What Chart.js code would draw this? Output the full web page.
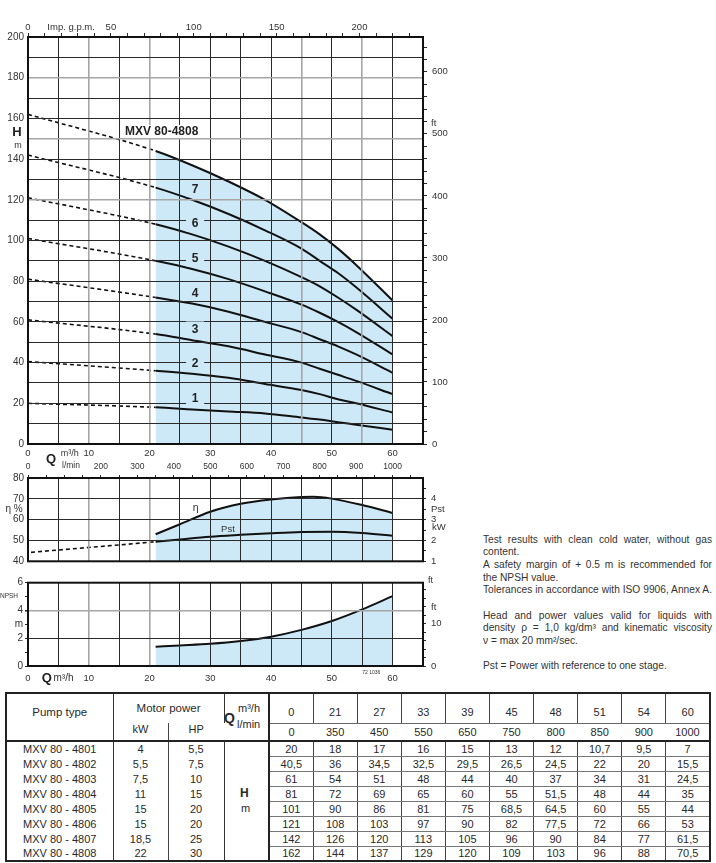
<!DOCTYPE html>
<html><head><meta charset="utf-8">
<script src="https://cdn.jsdelivr.net/npm/chart.js@4.4.1/dist/chart.umd.min.js"></script>
<style>
html,body{margin:0;padding:0;background:#fff;width:716px;height:863px;overflow:hidden;font-family:"Liberation Sans",Arial,sans-serif;color:#333}
canvas.cv{position:absolute;left:0}
#notes{position:absolute;left:483px;top:533.5px;width:229px;font-size:10.2px;color:#333}
#notes div{height:12.7px;line-height:12.7px;white-space:nowrap}
#notes div.j{text-align:justify;text-align-last:justify}
#tbl{position:absolute;left:5px;top:692px;width:704px;height:168px;border-collapse:collapse;table-layout:fixed;border:2px solid #222;font-size:11px;color:#2a2a2a}
#tbl td{padding:0;text-align:center;vertical-align:middle;white-space:nowrap;overflow:hidden;line-height:12px}
#tbl tr.r1{height:30px}
#tbl tr.r2{height:18px}
#tbl tr.rd{height:15px}
#tbl td span{position:relative}
#tbl .r2 td{border-bottom:2px solid #222}
#tbl td.pt{border-right:1.5px solid #333;border-bottom:2px solid #222;font-size:11.5px}
#tbl td.mp{border-right:1.5px solid #333;font-size:11.5px}
#tbl td.qc{border-right:2px solid #222;border-bottom:2px solid #222}
#tbl td.v1{border-left:1px solid #444;border-bottom:1px solid #666}
#tbl td.hp{border-left:1px solid #444}
#tbl td.nm{border-right:1.5px solid #333}
#tbl td.hc{border-right:2px solid #222;border-left:1.5px solid #333}
#tbl td.val{border-left:1px solid #444;border-bottom:1px solid #777}
.ov{position:absolute;line-height:12px;height:12px;white-space:nowrap;color:#2a2a2a;font-size:11px}
</style>
</head><body>
<canvas id="c1" class="cv" width="460" height="470" style="top:0px"></canvas>
<canvas id="c2" class="cv" width="460" height="117" style="top:455px"></canvas>
<canvas id="c3" class="cv" width="460" height="118" style="top:572px"></canvas>
<div id="notes">
<div class="j">Test results with clean cold water, without gas</div>
<div>content.</div>
<div class="j">A safety margin of + 0.5 m is recommended for</div>
<div>the NPSH value.</div>
<div class="j">Tolerances in accordance with ISO 9906, Annex A.</div>
<div></div>
<div class="j">Head and power values valid for liquids with</div>
<div class="j">density ρ = 1,0 kg/dm³ and kinematic viscosity</div>
<div>ν = max 20 mm²/sec.</div>
<div></div>
<div>Pst = Power with reference to one stage.</div>
</div>
<table id="tbl"></table>
<div class="ov" style="left:224px;top:711px;font-weight:bold;font-size:14px;height:14px;line-height:14px">Q</div>
<div class="ov" style="left:238px;top:702px">m³/h</div>
<div class="ov" style="left:237px;top:718px">l/min</div>
<div class="ov" style="left:240px;top:787px;font-weight:bold;font-size:12px">H</div>
<div class="ov" style="left:241px;top:802px">m</div>
<script>
// ---------- DATA ----------
const flowM3h = [0, 21, 27, 33, 39, 45, 48, 51, 54, 60];
const flowLmin = [0, 350, 450, 550, 650, 750, 800, 850, 900, 1000];
const pumpTypes = ['MXV 80 - 4801','MXV 80 - 4802','MXV 80 - 4803','MXV 80 - 4804','MXV 80 - 4805','MXV 80 - 4806','MXV 80 - 4807','MXV 80 - 4808'];
const motorKW = ['4','5,5','7,5','11','15','15','18,5','22'];
const motorHP = ['5,5','7,5','10','15','20','20','25','30'];
const head4801 = [20, 18, 17, 16, 15, 13, 12, 10.7, 9.5, 7];
const head4802 = [40.5, 36, 34.5, 32.5, 29.5, 26.5, 24.5, 22, 20, 15.5];
const head4803 = [61, 54, 51, 48, 44, 40, 37, 34, 31, 24.5];
const head4804 = [81, 72, 69, 65, 60, 55, 51.5, 48, 44, 35];
const head4805 = [101, 90, 86, 81, 75, 68.5, 64.5, 60, 55, 44];
const head4806 = [121, 108, 103, 97, 90, 82, 77.5, 72, 66, 53];
const head4807 = [142, 126, 120, 113, 105, 96, 90, 84, 77, 61.5];
const head4808 = [162, 144, 137, 129, 120, 109, 103, 96, 88, 70.5];
const heads = [head4801, head4802, head4803, head4804, head4805, head4806, head4807, head4808];
const curveLabels = ['1','2','3','4','5','6','7'];
const modelName = 'MXV 80-4808';
const effQ   = [21, 25, 30, 35, 40, 45, 47, 50, 55, 60];
const effPct = [53, 57.8, 63.8, 67.6, 69.7, 70.9, 71.0, 70.1, 67.0, 63.2];
const pstQ   = [0.5, 21, 25, 30, 35, 40, 45, 50, 55, 60];
const pstKW  = [1.43, 1.94, 2.05, 2.18, 2.27, 2.35, 2.41, 2.42, 2.36, 2.23];
const npshQ  = [21, 25, 30, 35, 40, 45, 50, 55, 60];
const npshM  = [1.39, 1.48, 1.6, 1.8, 2.11, 2.6, 3.24, 4.08, 5.03];
// tick labels
const qTickLabels = [0, 10, 20, 30, 40, 50, 60];
const gpmTickLabels = [0, 50, 100, 150, 200];
const lminTickLabels = [0, 200, 300, 400, 500, 600, 700, 800, 900, 1000];
const headTickLabels = [0, 20, 40, 60, 80, 100, 120, 140, 160, 180, 200];
const ftTickLabels = [0, 100, 200, 300, 400, 500, 600];
const etaTickLabels = [40, 50, 60, 70, 80];
const kwTickLabels = [1, 2, 3, 4];
const npshTickLabels = [0, 2, 4, 6];
const npshFtTickLabels = [0, 10];

// ---------- helpers ----------
const FONT = '"Liberation Sans", Arial, sans-serif';
Chart.defaults.font.family = FONT;
Chart.defaults.color = '#333';
const GPM = 1000 / 4.54609 / 60;   // Imp. gpm per m3/h
const LMIN = 1000 / 60;            // l/min per m3/h
const FT = 1 / 0.3048;             // ft per m
const BLUE = '#cde9f7';
const GRID = '#2a2a2a';
const GRAY = '#a6a6a6';
function steps(a, b, s) { const r = []; for (let v = a; v <= b + 1e-9; v += s) r.push(Math.round(v * 1000) / 1000); return r; }
const setTicks = vals => s => { s.ticks = vals.map(v => ({ value: v })); };
const fix = size => s => { if (s.isHorizontal()) s.height = size; else s.width = size; };
const lab = list => v => list.includes(Math.round(v * 1000) / 1000) ? String(v) : '';
const gcol = grays => c => (c.tick && grays.includes(c.tick.value)) ? GRAY : GRID;
const gwid = grays => c => (c.tick && grays.includes(c.tick.value)) ? 1.6 : 1;
function txt(ctx, s, x, y, font, align, base, color) {
  ctx.save(); ctx.font = font; ctx.fillStyle = color || '#333';
  ctx.textAlign = align || 'center'; ctx.textBaseline = base || 'middle';
  ctx.fillText(s, x, y); ctx.restore();
}
function frame(chart) {
  const a = chart.chartArea, ctx = chart.ctx;
  ctx.save(); ctx.strokeStyle = '#111'; ctx.lineWidth = 2;
  ctx.strokeRect(a.left, a.top, a.right - a.left, a.bottom - a.top); ctx.restore();
}
const dashSeg = limit => ({
  borderDash: c => c.p0.parsed.x < limit ? [4, 3] : undefined,
  borderWidth: c => c.p0.parsed.x < limit ? 1.6 : 2
});
const pts = (xs, ys) => xs.map((x, i) => ({ x: x, y: ys[i] }));
const common = {
  responsive: false, animation: false, devicePixelRatio: 1, events: [],
  layout: { padding: 0, autoPadding: false },
  plugins: { legend: { display: false }, tooltip: { enabled: false } },
  elements: { point: { radius: 0 }, line: { cubicInterpolationMode: 'monotone', borderColor: '#111' } }
};
const f = (size, bold) => ({ size: size, family: FONT, weight: bold ? 'bold' : 'normal' });

// ---------- CHART 1 : H-Q ----------
const grayQ = [10, 20, 45, 55];
const ds1 = heads.map(arr => ({
  data: pts(flowM3h, arr), xAxisID: 'x', yAxisID: 'y', borderColor: '#111', borderWidth: 2,
  fill: false, segment: dashSeg(21)
}));
ds1.push({ data: pts(flowM3h.slice(1), head4808.slice(1)), xAxisID: 'x', yAxisID: 'y', borderWidth: 0,
  borderColor: 'rgba(0,0,0,0)', backgroundColor: BLUE, fill: 'origin' });

new Chart(document.getElementById('c1'), {
  type: 'line',
  data: { datasets: ds1 },
  options: Object.assign({}, common, {
    scales: {
      x: { type: 'linear', position: 'bottom', min: 0, max: 65,
        afterBuildTicks: setTicks(steps(0, 65, 5)), afterFit: fix(26),
        ticks: { autoSkip: false, maxRotation: 0, padding: 4, font: f(9.5), callback: lab(qTickLabels) },
        grid: { z: 1, drawTicks: false, color: gcol(grayQ), lineWidth: gwid(grayQ) },
        border: { display: false } },
      xTop: { type: 'linear', position: 'top', min: 0, max: 65 * GPM,
        afterBuildTicks: setTicks(steps(0, 230, 10)), afterFit: fix(37),
        ticks: { autoSkip: false, maxRotation: 0, padding: 0, font: f(9.5), callback: lab(gpmTickLabels) },
        grid: { z: 1, drawOnChartArea: false, tickLength: 4, color: GRID },
        border: { display: false } },
      y: { type: 'linear', position: 'left', min: 0, max: 200,
        afterBuildTicks: setTicks(steps(0, 200, 10)), afterFit: fix(28),
        ticks: { autoSkip: false, padding: 4, font: f(10), callback: lab(headTickLabels) },
        grid: { z: 1, drawTicks: false, color: gcol([180, 150, 120]), lineWidth: gwid([180, 150, 120]) },
        border: { display: false } },
      yFt: { type: 'linear', position: 'right', min: 0, max: 200 * FT,
        afterBuildTicks: setTicks(steps(0, 640, 20)), afterFit: fix(37),
        ticks: { autoSkip: false, padding: 5, font: f(9.5), callback: lab(ftTickLabels) },
        grid: { z: 1, drawOnChartArea: false, tickLength: 4, color: GRID },
        border: { display: false } }
    }
  }),
  plugins: [{
    id: 'hqText',
    afterDraw(chart) {
      const { x, y, yFt, xTop } = chart.scales; const ctx = chart.ctx; const a = chart.chartArea;
      frame(chart);
      ctx.save(); ctx.font = 'bold 12px ' + FONT;
      const mw = ctx.measureText(modelName).width; const mx = x.getPixelForValue(22), my = y.getPixelForValue(153.3);
      ctx.fillStyle = '#fff'; ctx.fillRect(mx - mw / 2 - 2, my - 7, mw + 4, 13); ctx.restore();
      txt(ctx, modelName, mx, my, 'bold 12px ' + FONT, 'center', 'middle', '#222');
      curveLabels.forEach((s, i) => {
        const px = x.getPixelForValue(27.5), py = y.getPixelForValue(heads[i][2] + 5.3);
        ctx.save(); ctx.fillStyle = BLUE; ctx.fillRect(px - 9, py - 8, 18, 16); ctx.restore();
        txt(ctx, s, px, py + 0.5, 'bold 12px ' + FONT, 'center', 'middle', '#222');
      });
      txt(ctx, 'H', 17, y.getPixelForValue(152.9), 'bold 13px ' + FONT, 'center', 'middle', '#222');
      txt(ctx, 'm', 18, y.getPixelForValue(146.7), '9px ' + FONT);
      txt(ctx, 'ft', a.right + 8, yFt.getPixelForValue(517), '9.5px ' + FONT, 'left');
      txt(ctx, 'Imp. g.p.m.', xTop.getPixelForValue(26), a.top - 10, '9.5px ' + FONT);
      txt(ctx, 'Q', x.getPixelForValue(3.8), a.bottom + 15, 'bold 13px ' + FONT, 'center', 'middle', '#222');
      txt(ctx, 'm³/h', x.getPixelForValue(5.4), a.bottom + 10, '9px ' + FONT, 'left');
    }
  }]
});

// ---------- CHART 2 : efficiency / power ----------
new Chart(document.getElementById('c2'), {
  type: 'line',
  data: { datasets: [
    { data: pts(effQ, effPct), xAxisID: 'x', yAxisID: 'yE', borderColor: '#111', borderWidth: 2, fill: false },
    { data: pts(pstQ, pstKW), xAxisID: 'x', yAxisID: 'yK', borderColor: '#111', borderWidth: 2, fill: false, segment: dashSeg(21) },
    { data: pts(effQ, effPct), xAxisID: 'x', yAxisID: 'yE', borderWidth: 0, borderColor: 'rgba(0,0,0,0)', backgroundColor: BLUE, fill: 'start' }
  ] },
  options: Object.assign({}, common, {
    scales: {
      x: { type: 'linear', position: 'bottom', min: 0, max: 65,
        afterBuildTicks: setTicks(steps(0, 65, 5)), afterFit: fix(5),
        ticks: { display: false },
        grid: { z: 1, drawTicks: false, color: gcol([10, 20]), lineWidth: gwid([10, 20]) },
        border: { display: false } },
      xL: { type: 'linear', position: 'top', min: 0, max: 65 * LMIN,
        afterBuildTicks: setTicks(steps(0, 1050, 50)), afterFit: fix(23),
        ticks: { autoSkip: false, maxRotation: 0, padding: 3, font: f(8.5), callback: lab(lminTickLabels) },
        grid: { z: 1, drawOnChartArea: false, tickLength: 3, color: GRID },
        border: { display: false } },
      yE: { type: 'linear', position: 'left', min: 40, max: 80,
        afterBuildTicks: setTicks(steps(40, 80, 10)), afterFit: fix(28),
        ticks: { autoSkip: false, padding: 4, font: f(10), callback: lab(etaTickLabels) },
        grid: { z: 1, drawTicks: false, color: GRID },
        border: { display: false } },
      yK: { type: 'linear', position: 'right', min: 1, max: 5,
        afterBuildTicks: setTicks(steps(1, 4.5, 0.5)), afterFit: fix(37),
        ticks: { autoSkip: false, padding: 5, font: f(9.5), callback: lab(kwTickLabels) },
        grid: { z: 1, drawOnChartArea: false, tickLength: 3, color: GRID },
        border: { display: false } }
    }
  }),
  plugins: [{
    id: 'effText',
    afterDraw(chart) {
      const { x, yE, yK } = chart.scales; const ctx = chart.ctx; const a = chart.chartArea;
      frame(chart);
      txt(ctx, 'l/min', x.getPixelForValue(5.6), a.top - 12, '8.5px ' + FONT, 'left');
      txt(ctx, 'η %', 14, yE.getPixelForValue(65.2), '10px ' + FONT);
      txt(ctx, 'Pst', a.right + 8, yK.getPixelForValue(3.51), '9.5px ' + FONT, 'left');
      txt(ctx, 'kW', a.right + 9, yK.getPixelForValue(2.64), '9.5px ' + FONT, 'left');
      txt(ctx, 'η', x.getPixelForValue(27.6), yE.getPixelForValue(65.6), '10.5px ' + FONT);
      txt(ctx, 'Pst', x.getPixelForValue(32.9), yK.getPixelForValue(2.53), '9.5px ' + FONT);
    }
  }]
});

// ---------- CHART 3 : NPSH ----------
new Chart(document.getElementById('c3'), {
  type: 'line',
  data: { datasets: [
    { data: pts(npshQ, npshM), xAxisID: 'x', yAxisID: 'yN', borderColor: '#111', borderWidth: 2, fill: false },
    { data: pts(npshQ, npshM), xAxisID: 'x', yAxisID: 'yN', borderWidth: 0, borderColor: 'rgba(0,0,0,0)', backgroundColor: BLUE, fill: 'origin' }
  ] },
  options: Object.assign({}, common, {
    layout: { padding: { top: 7, left: 0, right: 0, bottom: 0 }, autoPadding: false },
    scales: {
      x: { type: 'linear', position: 'bottom', min: 0, max: 65,
        afterBuildTicks: setTicks(steps(0, 65, 5)), afterFit: fix(24),
        ticks: { autoSkip: false, maxRotation: 0, padding: 7, font: f(9.5),
          callback: v => (v === 0 || (v >= 10 && qTickLabels.includes(v))) ? String(v) : '' },
        grid: { z: 1, drawTicks: false, color: gcol([10, 20]), lineWidth: gwid([10, 20]) },
        border: { display: false } },
      yN: { type: 'linear', position: 'left', min: 0, max: 6,
        afterBuildTicks: setTicks(steps(0, 6, 1)), afterFit: fix(28),
        ticks: { autoSkip: false, padding: 2, font: f(10), callback: v => v === 3 ? 'm' : lab(npshTickLabels)(v) },
        grid: { z: 1, tickLength: 3, tickColor: GRID,
          color: c => (c.tick && c.tick.value % 2 === 0) ? (c.tick.value === 4 ? GRAY : GRID) : 'rgba(0,0,0,0)',
          lineWidth: c => (c.tick && c.tick.value === 4) ? 1.6 : 1 },
        border: { display: false } },
      yNf: { type: 'linear', position: 'right', min: 0, max: 6 * FT,
        afterBuildTicks: setTicks(steps(0, 18, 2)), afterFit: fix(37),
        ticks: { autoSkip: false, padding: 5, font: f(9.5), callback: lab(npshFtTickLabels) },
        grid: { z: 1, drawOnChartArea: false, tickLength: 3, color: GRID },
        border: { display: false } }
    }
  }),
  plugins: [{
    id: 'npshText',
    afterDraw(chart) {
      const { x, yN, yNf } = chart.scales; const ctx = chart.ctx; const a = chart.chartArea;
      frame(chart);
      txt(ctx, 'NPSH', 18, yN.getPixelForValue(5), '6.5px ' + FONT, 'right');
      txt(ctx, 'ft', a.right + 5, a.top - 2, '9px ' + FONT, 'left');
      txt(ctx, 'ft', a.right + 8, yNf.getPixelForValue(13.8), '9.5px ' + FONT, 'left');
      txt(ctx, 'Q', x.getPixelForValue(3.1), a.bottom + 12, 'bold 13px ' + FONT, 'center', 'middle', '#222');
      txt(ctx, 'm³/h', x.getPixelForValue(4.2), a.bottom + 12, '10px ' + FONT, 'left');
      txt(ctx, '72 1036', x.getPixelForValue(56.5), a.bottom + 7, '5px ' + FONT);
    }
  }]
});

// ---------- TABLE ----------
(function buildTable() {
  const fmt = v => String(v).replace('.', ',');
  const sp = (t, dy) => '<span style="top:' + dy + 'px">' + t + '</span>';
  let h = '<colgroup><col style="width:107px"><col style="width:55px"><col style="width:56px"><col style="width:45px">' +
    flowM3h.map(() => '<col style="width:44.1px">').join('') + '</colgroup>';
  h += '<tr class="r1"><td class="pt" rowspan="2">' + sp('Pump type', -5) + '</td><td class="mp" colspan="2">' + sp('Motor power', -1) + '</td>' +
    '<td class="qc" rowspan="2"></td>' +
    flowM3h.map(v => '<td class="v1">' + sp(fmt(v), 4) + '</td>').join('') + '</tr>';
  h += '<tr class="r2"><td class="kw">' + sp('kW', -3) + '</td><td class="hp">' + sp('HP', -3) + '</td>' +
    flowLmin.map(v => '<td class="v2">' + v + '</td>').join('') + '</tr>';
  pumpTypes.forEach((p, i) => {
    h += '<tr class="rd"><td class="nm">' + p + '</td><td class="kw">' + motorKW[i] + '</td><td class="hp">' + motorHP[i] + '</td>' +
      (i === 0 ? '<td class="hc" rowspan="8"></td>' : '') +
      heads[i].map(v => '<td class="val">' + fmt(v) + '</td>').join('') + '</tr>';
  });
  document.getElementById('tbl').innerHTML = h;
})();
</script>
</body></html>
